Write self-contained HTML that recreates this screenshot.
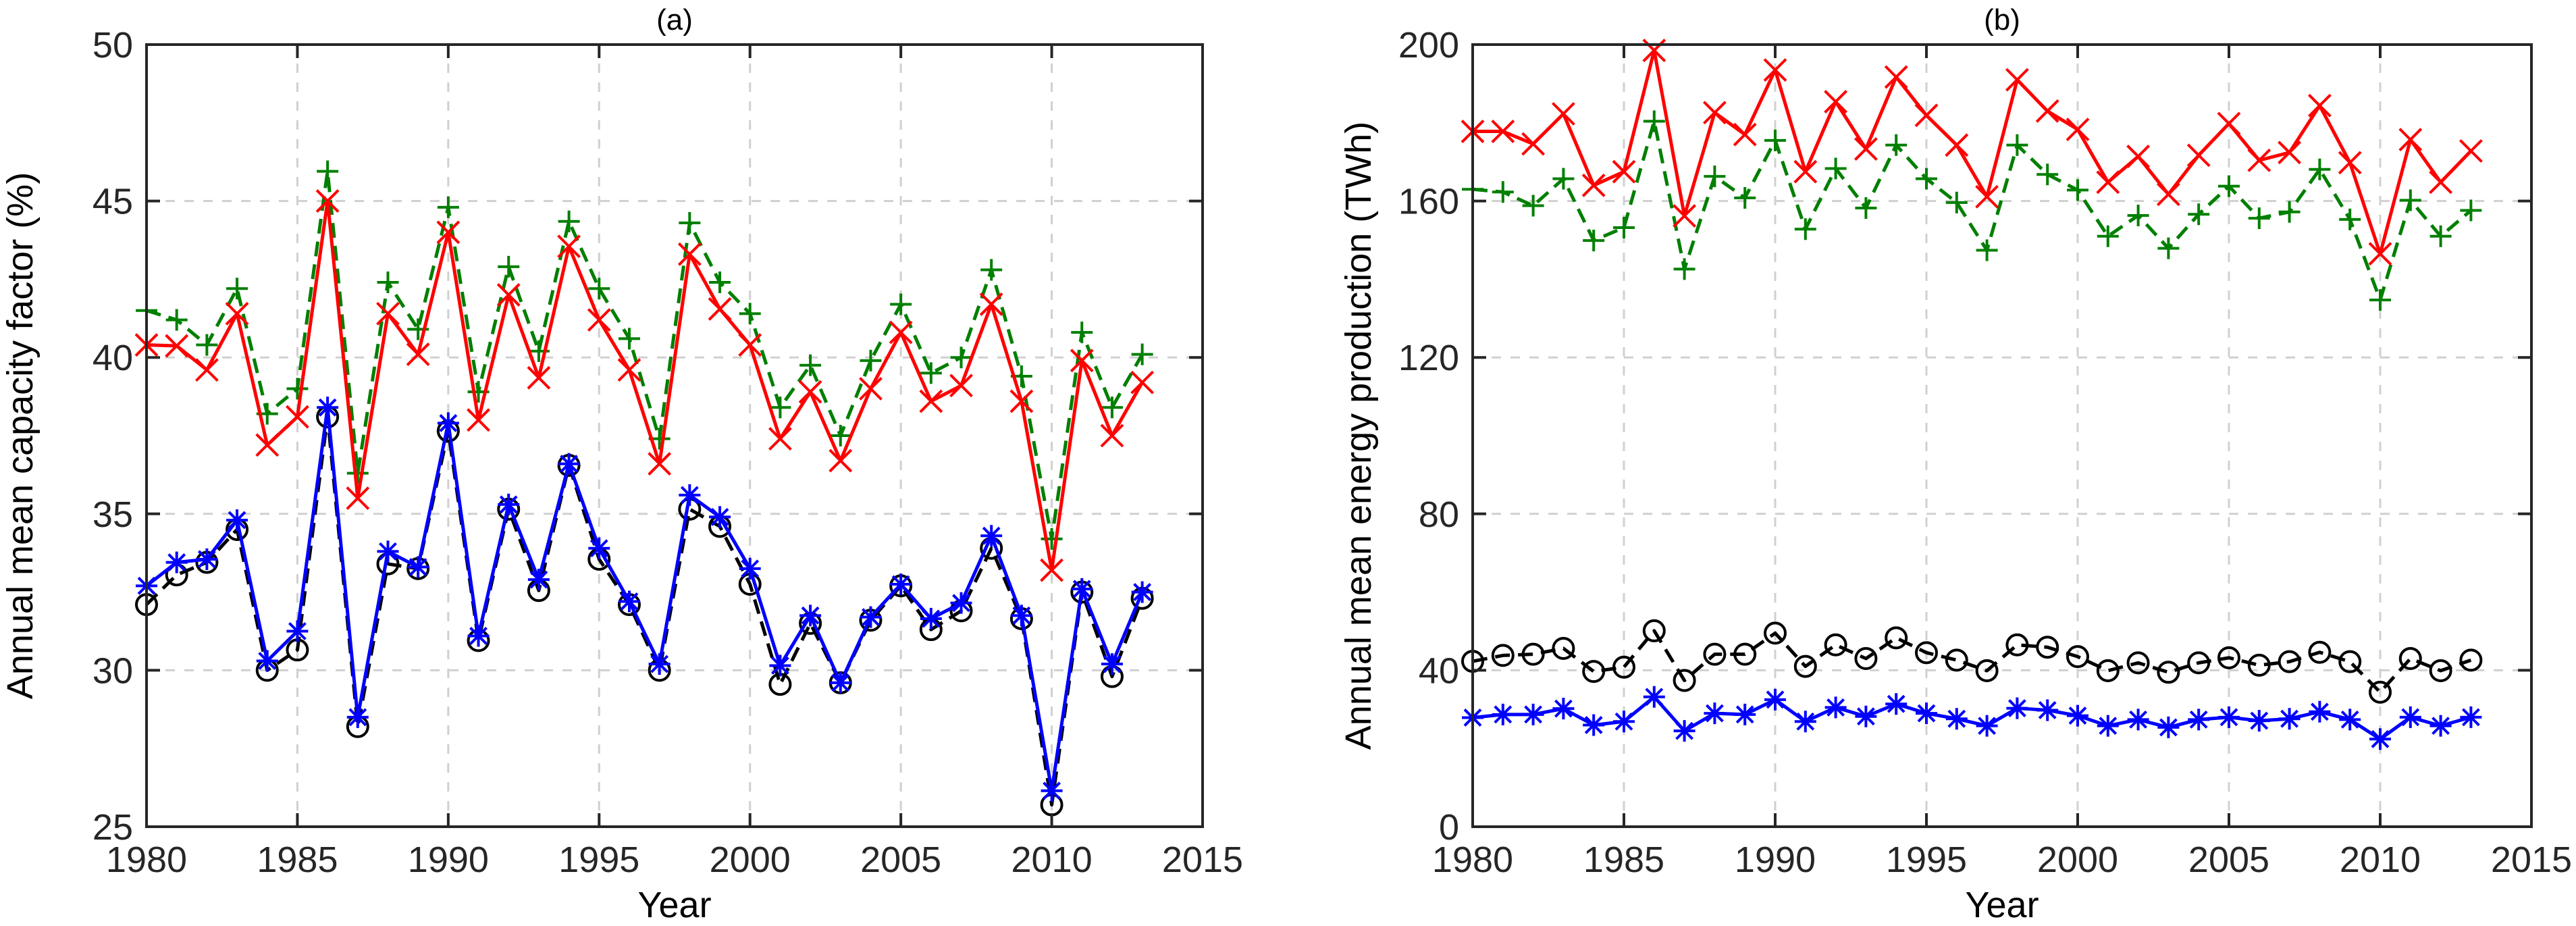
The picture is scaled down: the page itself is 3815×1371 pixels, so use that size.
<!DOCTYPE html>
<html><head><meta charset="utf-8"><style>
html,body{margin:0;padding:0;background:#fff;}
svg{display:block;font-family:"Liberation Sans",sans-serif;}
</style></head><body>
<svg id="fig" width="3815" height="1371" viewBox="0 0 3815 1371" xmlns="http://www.w3.org/2000/svg">
<rect width="3815" height="1371" fill="#fff"/>
</svg>
<script>
const years = [1980,1981,1982,1983,1984,1985,1986,1987,1988,1989,1990,1991,1992,1993,1994,1995,1996,1997,1998,1999,2000,2001,2002,2003,2004,2005,2006,2007,2008,2009,2010,2011,2012,2013];
// Panel (a) capacity factor (%)
const cfGreen = [41.5,41.2,40.4,42.2,38.2,39.0,45.95,36.3,42.4,40.9,44.8,38.9,42.9,40.2,44.35,42.2,40.6,37.4,44.3,42.4,41.4,38.4,39.75,37.5,39.9,41.7,39.5,40.0,42.8,39.4,34.2,40.8,38.4,40.1];
const cfRed   = [40.4,40.37,39.6,41.4,37.2,38.1,45.0,35.5,41.4,40.1,44.0,38.0,42.0,39.35,43.55,41.2,39.6,36.6,43.3,41.55,40.4,37.4,38.9,36.7,39.0,40.8,38.6,39.1,41.7,38.6,33.2,39.9,37.5,39.2];
const cfBlue  = [32.7,33.45,33.55,34.8,30.3,31.25,38.4,28.5,33.8,33.3,37.9,31.1,35.3,32.9,36.6,33.9,32.2,30.2,35.6,34.9,33.25,30.15,31.75,29.6,31.7,32.75,31.65,32.15,34.3,31.75,26.15,32.6,30.2,32.5];
const cfBlack = [32.1,33.05,33.45,34.5,30.0,30.65,38.1,28.2,33.4,33.25,37.65,30.95,35.15,32.55,36.55,33.55,32.1,30.0,35.15,34.6,32.75,29.55,31.5,29.6,31.6,32.7,31.3,31.9,33.9,31.65,25.7,32.5,29.8,32.3];
// Panel (b) energy production (TWh)
const epRed   = [177.8,177.8,174.6,182.3,164,167.5,198.5,156.2,182.6,177,193.5,167.5,185.4,173.3,191.7,181.9,174.3,161.1,191,183,178.3,164.8,171.4,161.7,171.7,179.8,170.4,172.4,184.4,169.8,146.5,175.7,164.8,172.8];
const epGreen = [163,162.3,158.8,165.7,149.9,153.2,180.4,142.6,166.3,160.8,175.5,152.8,168.3,158.2,174.3,165.7,159.6,147.4,174.3,166.8,162.8,151,156.3,147.9,156.6,163.8,155.6,157.2,168.1,155.3,134.7,160.2,151,157.6];
const epBlack = [42.3,43.8,44.1,45.6,39.7,40.8,50.1,37.4,44.1,44.1,49.5,41,46.5,43,48.3,44.5,42.6,39.9,46.5,45.9,43.5,39.9,41.9,39.5,41.9,43.2,41.3,42.2,44.6,42.2,34.4,43,39.9,42.6];
const epBlue  = [27.9,28.7,28.7,30.2,26,26.9,33.2,24.5,29,28.7,32.5,26.9,30.5,28.2,31.4,29,27.6,25.8,30.3,29.8,28.4,25.8,27.4,25.4,27.4,28,27.1,27.6,29.4,27.4,22.4,28,25.8,28];
const xTicks = [1980,1985,1990,1995,2000,2005,2010,2015];
const yTicksA = [25,30,35,40,45,50];
const yTicksB = [0,40,80,120,160,200];

const NS="http://www.w3.org/2000/svg";
const svg=document.getElementById('fig');
function mk(tag,attrs,parent){const e=document.createElementNS(NS,tag);for(const k in attrs)e.setAttribute(k,attrs[k]);(parent||svg).appendChild(e);return e;}

function panel(cfg){
  const g=mk('g',{});
  
  
  const L=cfg.left,R=cfg.right,T=66,B=1224;
  const xs=v=>L+(v-1980)/(2015-1980)*(R-L);
  const ys=v=>B-(v-cfg.ymin)/(cfg.ymax-cfg.ymin)*(B-T);
  // grid
  xTicks.forEach(t=>{
    if(t>1980&&t<2015){const l=mk('line',{x1:xs(t),x2:xs(t),y1:T,y2:B,stroke:'#d0d0d0','stroke-width':3,'stroke-dasharray':'14 14'},g);
    
    }
  });
  cfg.yticks.forEach(t=>{
    if(t>cfg.ymin&&t<cfg.ymax){const l=mk('line',{x1:L,x2:R,y1:ys(t),y2:ys(t),stroke:'#d0d0d0','stroke-width':3,'stroke-dasharray':'14 14'},g);
    
    }
  });
  // series
  cfg.series.forEach(s=>{
    const sg=mk('g',{},g);
    
    
    const pts=years.map((y,i)=>xs(y)+','+ys(s.data[i])).join(' ');
    const pl=mk('polyline',{points:pts,fill:'none',stroke:s.color,'stroke-width':5,'stroke-dasharray':s.dash||'none','stroke-linejoin':'round'},sg);
    
    
    years.forEach((y,i)=>{
      const cx=xs(y),cy=ys(s.data[i]),r=16;
      let d='';
      if(s.marker==='x')d=`M${cx-r} ${cy-r}L${cx+r} ${cy+r}M${cx-r} ${cy+r}L${cx+r} ${cy-r}`;
      else if(s.marker==='+')d=`M${cx-r} ${cy}L${cx+r} ${cy}M${cx} ${cy-r}L${cx} ${cy+r}`;
      else if(s.marker==='*'){const a=r*0.75;d=`M${cx-r} ${cy}L${cx+r} ${cy}M${cx} ${cy-r}L${cx} ${cy+r}M${cx-a} ${cy-a}L${cx+a} ${cy+a}M${cx-a} ${cy+a}L${cx+a} ${cy-a}`;}
      let m;
      if(s.marker==='o')m=mk('circle',{cx:cx,cy:cy,r:15,fill:'none',stroke:s.color,'stroke-width':4},sg);
      else m=mk('path',{d:d,fill:'none',stroke:s.color,'stroke-width':4},sg);
      
      
    });
  });
  // axes box
  const box=mk('rect',{x:L,y:T,width:R-L,height:B-T,fill:'none',stroke:'#262626','stroke-width':4},g);
  
  
  xTicks.forEach(t=>{
    mk('line',{x1:xs(t),x2:xs(t),y1:B,y2:B-20,stroke:'#262626','stroke-width':4},g);
    mk('line',{x1:xs(t),x2:xs(t),y1:T,y2:T+20,stroke:'#262626','stroke-width':4},g);
    const tx=mk('text',{x:xs(t),y:1291,'text-anchor':'middle','font-size':54,fill:'#262626'},g);
    tx.textContent=t;
    
    
  });
  cfg.yticks.forEach(t=>{
    mk('line',{x1:L,x2:L+20,y1:ys(t),y2:ys(t),stroke:'#262626','stroke-width':4},g);
    mk('line',{x1:R,x2:R-20,y1:ys(t),y2:ys(t),stroke:'#262626','stroke-width':4},g);
    const tx=mk('text',{x:L-20,y:ys(t)+19,'text-anchor':'end','font-size':54,fill:'#262626'},g);
    tx.textContent=t;
    
    
  });
  const xl=mk('text',{x:(L+R)/2,y:1358,'text-anchor':'middle','font-size':54,fill:'#000'},g);
  xl.textContent='Year';
  
  
  const yl=mk('text',{x:0,y:0,'text-anchor':'middle','font-size':54,fill:'#000',transform:`translate(${cfg.ylx},645) rotate(-90)`},g);
  yl.textContent=cfg.ylabel;
  
  
  const ti=mk('text',{x:(L+R)/2,y:44,'text-anchor':'middle','font-size':44,fill:'#000'},g);
  ti.textContent=cfg.title;
  
  
}

panel({name:'panel-a-capacity-factor',left:217,right:1781,ymin:25,ymax:50,yticks:yTicksA,ylx:48,
  ylabel:'Annual mean capacity factor (%)',title:'(a)',
  series:[
    {name:'green-series',data:cfGreen,color:'#007f00',dash:'22 12',marker:'+'},
    {name:'red-series',data:cfRed,color:'#ff0000',marker:'x'},
    {name:'black-series',data:cfBlack,color:'#000',dash:'22 12',marker:'o'},
    {name:'blue-series',data:cfBlue,color:'#0000ff',marker:'*'}
  ]});
panel({name:'panel-b-energy-production',left:2181,right:3749,ymin:0,ymax:200,yticks:yTicksB,ylx:2030,
  ylabel:'Annual mean energy production (TWh)',title:'(b)',
  series:[
    {name:'green-series',data:epGreen,color:'#007f00',dash:'22 12',marker:'+'},
    {name:'red-series',data:epRed,color:'#ff0000',marker:'x'},
    {name:'black-series',data:epBlack,color:'#000',dash:'22 12',marker:'o'},
    {name:'blue-series',data:epBlue,color:'#0000ff',marker:'*'}
  ]});
</script>
</body></html>
